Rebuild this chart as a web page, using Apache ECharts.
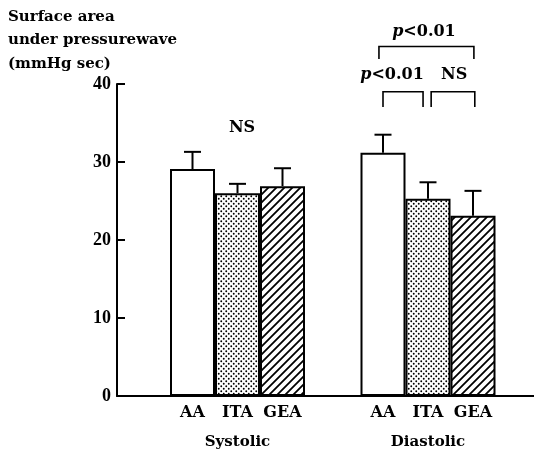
<!DOCTYPE html>
<html><head><meta charset="utf-8">
<script src="https://cdn.jsdelivr.net/npm/echarts@6/dist/echarts.min.js"></script>
<style>html,body{margin:0;padding:0;background:#fff}#c{width:534px;height:450px}</style>
</head><body><div id="c"></div>
<script>
// ---- data ----
const groups = ['Systolic', 'Diastolic'];
const subgroups = ['AA', 'ITA', 'GEA'];
const yTicks = [0, 10, 20, 30, 40];
const aaMean = [29.1, 31.2];
const itaMean = [26.0, 25.3];
const geaMean = [26.9, 23.1];
const aaUpper = [31.3, 33.5];
const itaUpper = [27.2, 27.4];
const geaUpper = [29.2, 26.3];
// brackets: [group, fromBar, toBar, topValue, legValue]
const brackets = [
  [1, 0, 0.89, 39.0, 37.05],
  [1, 1.07, 2.04, 39.0, 37.05],
  [1, -0.09, 2.02, 44.8, 43.2]
];
// annotation labels: [group, barPos, value]
const annoPos = [
  [0, 1.1, 34.4],
  [1, 0.2, 41.2],
  [1, 1.58, 41.2],
  [1, 0.91, 46.7]
];
const annoText = ['NS', '{i|p}<0.01', 'NS', '{i|p}<0.01'];

// ---- style ----
const FONT = 'DejaVu Serif';
const NUMFONT = 'Liberation Serif';
const BAR_W = 45;

function dotPattern() {
  const s = 5;
  const c = document.createElement('canvas');
  c.width = s; c.height = s;
  const x = c.getContext('2d');
  x.fillStyle = '#fff'; x.fillRect(0, 0, s, s);
  x.fillStyle = '#000';
  x.beginPath(); x.arc(1.25, 1.25, 0.95, 0, Math.PI * 2); x.fill();
  x.beginPath(); x.arc(3.75, 3.75, 0.95, 0, Math.PI * 2); x.fill();
  return c;
}
function hatchPattern() {
  const s = 8;
  const c = document.createElement('canvas');
  c.width = s; c.height = s;
  const x = c.getContext('2d');
  x.fillStyle = '#fff'; x.fillRect(0, 0, s, s);
  x.strokeStyle = '#000'; x.lineWidth = 1.8;
  x.beginPath();
  x.moveTo(0, s); x.lineTo(s, 0);
  x.moveTo(-s / 2, s / 2); x.lineTo(s / 2, -s / 2);
  x.moveTo(s / 2, s * 1.5); x.lineTo(s * 1.5, s / 2);
  x.stroke();
  return c;
}
const fills = ['#fff', { image: dotPattern(), repeat: 'repeat' }, { image: hatchPattern(), repeat: 'repeat' }];
const means = [aaMean, itaMean, geaMean];
const uppers = [aaUpper, itaUpper, geaUpper];

const errData = [];
for (let b = 0; b < 3; b++) for (let g = 0; g < 2; g++) errData.push([g, b, means[b][g], uppers[b][g]]);

function barX(api, g, pos) {
  const c = api.coord([g, 0]);
  return c[0] + (pos - 1) * BAR_W;
}

const chart = echarts.init(document.getElementById('c'));
chart.setOption({
  animation: false,
  title: {
    text: 'Surface area\nunder pressurewave\n(mmHg sec)',
    left: 8, top: 5, padding: 0,
    textStyle: { fontFamily: FONT, fontWeight: 'bold', fontSize: 15, lineHeight: 23.5, color: '#000' }
  },
  grid: [
    { left: 117, right: 0, top: 84, bottom: 54, containLabel: false, outerBoundsMode: 'none' },
    { left: 142.25, width: 381, top: 84, bottom: 54, containLabel: false, outerBoundsMode: 'none' }
  ],
  xAxis: [
    { type: 'value', gridIndex: 0, min: 0, max: 1, axisLine: { show: true, lineStyle: { color: '#000', width: 2 } },
      axisTick: { show: false }, axisLabel: { show: false }, splitLine: { show: false } },
    { type: 'category', gridIndex: 1, data: groups, axisLine: { show: false }, axisTick: { show: false },
      axisLabel: {
        margin: 3,
        formatter: function (v) { return '{s|' + subgroups[0] + '}{s|' + subgroups[1] + '}{s|' + subgroups[2] + '}\n{g|' + v + '}'; },
        rich: {
          s: { width: BAR_W, align: 'center', fontFamily: FONT, fontWeight: 'bold', fontSize: 16, lineHeight: 28, color: '#000' },
          g: { align: 'center', fontFamily: FONT, fontWeight: 'bold', fontSize: 15, lineHeight: 30, color: '#000' }
        }
      } }
  ],
  yAxis: [
    { type: 'value', gridIndex: 0, min: yTicks[0], max: yTicks[yTicks.length - 1], interval: 10,
      axisLine: { show: true, lineStyle: { color: '#000', width: 2 } },
      axisTick: { show: true, inside: true, length: 8, lineStyle: { color: '#000', width: 2 } },
      axisLabel: { margin: 6, fontFamily: NUMFONT, fontWeight: 'bold', fontSize: 18, color: '#000' },
      splitLine: { show: false } },
    { type: 'value', gridIndex: 1, min: yTicks[0], max: yTicks[yTicks.length - 1], show: false, splitLine: { show: false } }
  ],
  series: [
    ...subgroups.map((name, b) => ({
      name, type: 'bar', xAxisIndex: 1, yAxisIndex: 1, data: means[b], barWidth: BAR_W, barGap: '0%',
      itemStyle: { color: fills[b], borderColor: '#000', borderWidth: 2 }
    })),
    {
      type: 'custom', xAxisIndex: 1, yAxisIndex: 1, data: errData, encode: { x: 0, y: [2, 3] }, z: 5,
      renderItem: function (params, api) {
        const g = api.value(0), b = api.value(1);
        const x = barX(api, g, b);
        const y0 = api.coord([g, api.value(2)])[1];
        const y1 = api.coord([g, api.value(3)])[1];
        return { type: 'group', children: [
          { type: 'line', shape: { x1: x, y1: y0, x2: x, y2: y1 }, style: { stroke: '#000', lineWidth: 2 } },
          { type: 'line', shape: { x1: x - 8.5, y1: y1, x2: x + 8.5, y2: y1 }, style: { stroke: '#000', lineWidth: 2 } }
        ] };
      }
    },
    {
      type: 'custom', xAxisIndex: 1, yAxisIndex: 1, data: brackets, encode: { x: 0, y: [3, 4] }, clip: false, z: 5,
      renderItem: function (params, api) {
        const g = api.value(0);
        const x1 = barX(api, g, api.value(1));
        const x2 = barX(api, g, api.value(2));
        const yt = api.coord([g, api.value(3)])[1];
        const yl = api.coord([g, api.value(4)])[1];
        return { type: 'polyline', shape: { points: [[x1, yl], [x1, yt], [x2, yt], [x2, yl]] },
          style: { stroke: '#000', lineWidth: 1.6, fill: null } };
      }
    },
    {
      type: 'custom', xAxisIndex: 1, yAxisIndex: 1, data: annoPos, encode: { x: 0, y: 2 }, clip: false, z: 5,
      renderItem: function (params, api) {
        const g = api.value(0);
        const x = barX(api, g, api.value(1));
        const y = api.coord([g, api.value(2)])[1];
        return { type: 'text', x: x, y: y, style: {
          text: annoText[params.dataIndex], align: 'center', verticalAlign: 'middle',
          fontFamily: FONT, fontWeight: 'bold', fontSize: 16, fill: '#000',
          rich: { i: { fontStyle: 'italic', fontFamily: FONT, fontWeight: 'bold', fontSize: 16 } }
        } };
      }
    }
  ]
});
</script>
</body></html>
